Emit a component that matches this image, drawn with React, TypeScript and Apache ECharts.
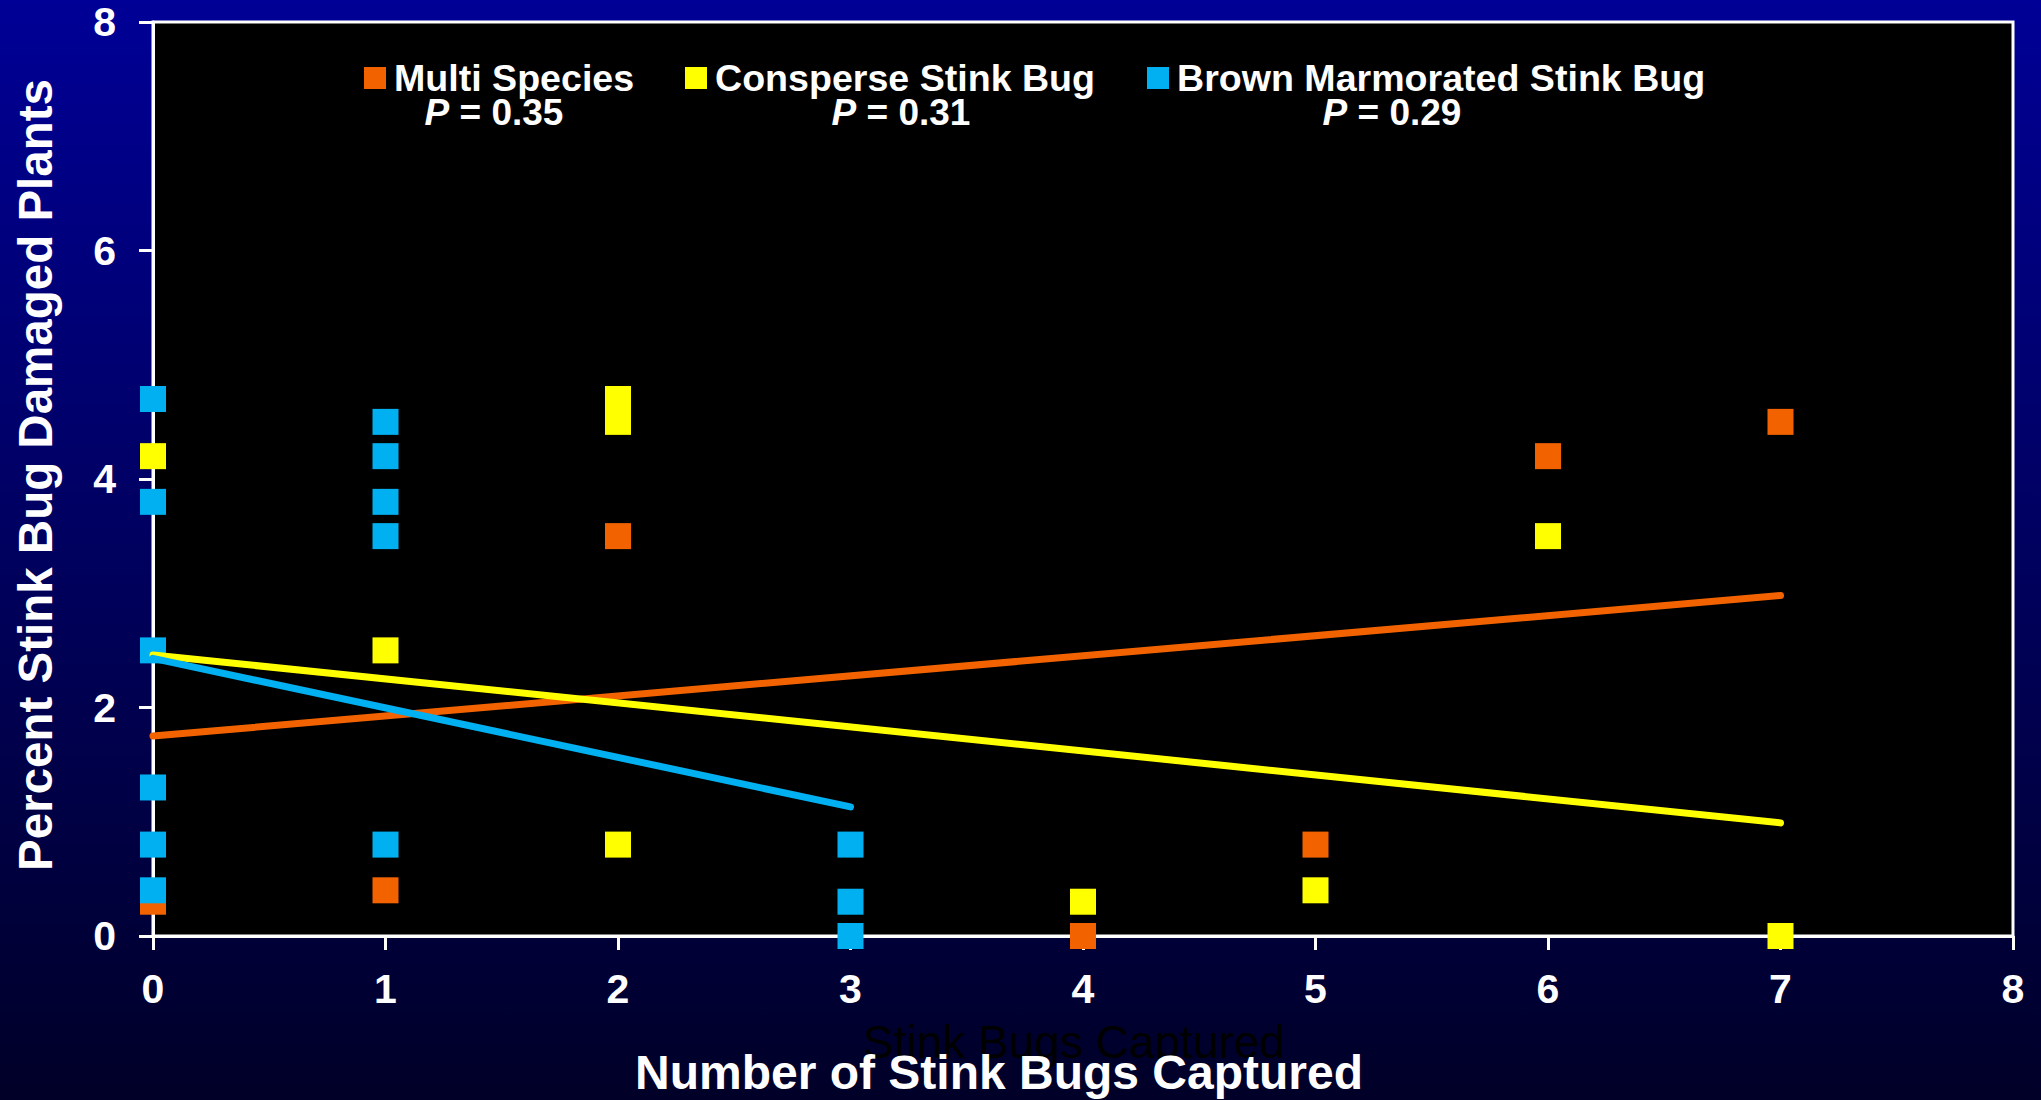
import React, { useEffect, useRef } from "react";
import * as echarts from "echarts";

// ---- data ----
const seriesNames = ["Multi Species", "Consperse Stink Bug", "Brown Marmorated Stink Bug"];
const pValues = ["0.35", "0.31", "0.29"];

const multiX = [0, 1, 2, 4, 5, 6, 7];
const multiY = [0.3, 0.4, 3.5, 0.0, 0.8, 4.2, 4.5];

const consX = [0, 1, 2, 2, 2, 4, 5, 6, 7];
const consY = [4.2, 2.5, 4.7, 4.5, 0.8, 0.3, 0.4, 3.5, 0.0];

const bmsbX = [0, 0, 0, 0, 0, 0, 1, 1, 1, 1, 1, 3, 3, 3];
const bmsbY = [4.7, 3.8, 2.5, 1.3, 0.8, 0.4, 4.5, 4.2, 3.8, 3.5, 0.8, 0.8, 0.3, 0.0];

const multiTrendX = [0, 7];
const multiTrendY = [1.75, 2.98];
const consTrendX = [0, 7];
const consTrendY = [2.46, 0.99];
const bmsbTrendX = [0, 3];
const bmsbTrendY = [2.43, 1.13];

const xTitle = "Number of Stink Bugs Captured";
const ghostTitle = "Stink Bugs Captured";
const yTitle = "Percent Stink Bug Damaged Plants";

const colors = ["#F26300", "#FFFF00", "#00B0F0"];
const FONT = '"Liberation Sans", Arial, Helvetica, sans-serif';

const pairs = (xs: number[], ys: number[]) => xs.map((x, i) => [x, ys[i]]);

export default function App() {
  const ref = useRef<HTMLDivElement>(null);

  useEffect(() => {
    if (!ref.current) return;
    const chart = echarts.init(ref.current, null, { renderer: "svg" });

    const scatter = (name: string, xs: number[], ys: number[], color: string) => ({
      name,
      type: "scatter",
      symbol: "rect",
      symbolSize: 26,
      itemStyle: { color, opacity: 1 },
      data: pairs(xs, ys),
      z: 2,
    });
    const trend = (name: string, xs: number[], ys: number[], color: string, z: number) => ({
      name,
      type: "line",
      showSymbol: false,
      symbol: "none",
      lineStyle: { color, width: 7, cap: "round" },
      data: pairs(xs, ys),
      z,
    });

    const legendLefts = [364, 685, 1147];
    const pCenters = [494, 901, 1392];

    const option: any = {
      animation: false,
      backgroundColor: new echarts.graphic.LinearGradient(0, 0, 0, 1, [
        { offset: 0, color: "#000096" },
        { offset: 1, color: "#000028" },
      ]),
      grid: {
        show: true,
        left: 153,
        top: 22,
        right: 28,
        bottom: 164,
        backgroundColor: "#000000",
        borderColor: "#ffffff",
        borderWidth: 3,
      },
      legend: seriesNames.map((n, i) => ({
        data: [n],
        left: legendLefts[i],
        top: 59,
        padding: 0,
        itemWidth: 22,
        itemHeight: 22,
        icon: "rect",
        textStyle: {
          color: "#ffffff",
          fontSize: 37.6,
          fontWeight: "bold",
          fontFamily: FONT,
          padding: [0, 0, 0, 3],
        },
      })),
      xAxis: {
        type: "value",
        min: 0,
        max: 8,
        interval: 1,
        axisLine: { show: true, onZero: false, lineStyle: { color: "#ffffff", width: 3 } },
        axisTick: { show: true, length: 14, lineStyle: { color: "#ffffff", width: 3 } },
        axisLabel: { color: "#ffffff", fontSize: 41, fontWeight: "bold", fontFamily: FONT, margin: 32 },
        splitLine: { show: false },
      },
      yAxis: {
        type: "value",
        min: 0,
        max: 8,
        interval: 2,
        axisLine: { show: true, onZero: false, lineStyle: { color: "#ffffff", width: 3 } },
        axisTick: { show: true, length: 14, lineStyle: { color: "#ffffff", width: 3 } },
        axisLabel: { color: "#ffffff", fontSize: 41, fontWeight: "bold", fontFamily: FONT, margin: 37 },
        splitLine: { show: false },
      },
      series: [
        scatter(seriesNames[0], multiX, multiY, colors[0]),
        scatter(seriesNames[1], consX, consY, colors[1]),
        scatter(seriesNames[2], bmsbX, bmsbY, colors[2]),
        trend("Multi trend", multiTrendX, multiTrendY, colors[0], 3),
        trend("Consperse trend", consTrendX, consTrendY, colors[1], 4),
        trend("BMSB trend", bmsbTrendX, bmsbTrendY, colors[2], 5),
      ],
      graphic: [
        {
          type: "text",
          x: 35,
          y: 475,
          rotation: Math.PI / 2,
          style: {
            text: yTitle,
            fill: "#ffffff",
            font: `bold 47.5px ${FONT}`,
            align: "center",
            verticalAlign: "middle",
          },
        },
        {
          type: "text",
          x: 1074,
          y: 1042,
          style: {
            text: ghostTitle,
            fill: "#000000",
            font: `46px ${FONT}`,
            lineHeight: 24,
            align: "center",
            verticalAlign: "middle",
          },
        },
        {
          type: "text",
          x: 999,
          y: 1072,
          style: {
            text: xTitle,
            fill: "#ffffff",
            font: `bold 48px ${FONT}`,
            lineHeight: 26,
            align: "center",
            verticalAlign: "middle",
          },
        },
        ...pValues.map((p, i) => ({
          type: "text",
          x: pCenters[i],
          y: 112,
          z: 10,
          style: {
            text: `{i|P}{n| = ${p}}`,
            align: "center",
            verticalAlign: "middle",
            fill: "#ffffff",
            rich: {
              i: { fontStyle: "italic", fontWeight: "bold", fontSize: 37, lineHeight: 26, fontFamily: FONT, fill: "#ffffff" },
              n: { fontWeight: "bold", fontSize: 37, lineHeight: 26, fontFamily: FONT, fill: "#ffffff" },
            },
          },
        })),
      ],
    };

    chart.setOption(option);
    return () => chart.dispose();
  }, []);

  return (
    <div
      ref={ref}
      style={{ position: "fixed", left: 0, top: 0, width: 2041, height: 1100 }}
    />
  );
}
